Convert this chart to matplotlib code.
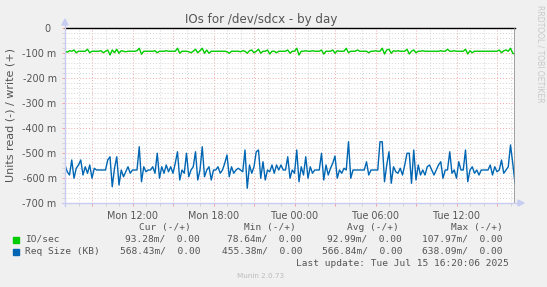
import numpy as np
import matplotlib
matplotlib.use('Agg')
import matplotlib.pyplot as plt
from matplotlib.ticker import MultipleLocator, FixedLocator

# read side values (milli-units), one sample every 10 minutes
io_sec = [-91, -97, -91, -93, -88, -99, -93, -93, -93, -93,
          -85, -99, -93, -93, -93, -93, -91, -99, -93, -88,
          -108, -88, -99, -85, -101, -91, -93, -95, -93, -93,
          -93, -93, -91, -81, -105, -93, -93, -93, -93, -93,
          -91, -99, -93, -93, -93, -91, -93, -93, -93, -93,
          -81, -101, -93, -93, -93, -95, -99, -93, -85, -99,
          -91, -81, -101, -88, -101, -93, -93, -93, -93, -93,
          -93, -93, -95, -101, -93, -93, -93, -93, -95, -91,
          -93, -101, -91, -88, -99, -93, -85, -101, -93, -93,
          -88, -104, -93, -93, -99, -93, -93, -93, -93, -88,
          -101, -93, -93, -81, -108, -93, -93, -91, -93, -93,
          -91, -93, -93, -93, -88, -104, -93, -93, -93, -88,
          -101, -91, -93, -93, -93, -81, -99, -93, -93, -93,
          -88, -93, -93, -93, -93, -99, -93, -93, -91, -93,
          -93, -81, -104, -88, -85, -101, -91, -93, -91, -93,
          -93, -93, -85, -104, -93, -88, -99, -93, -93, -91,
          -93, -93, -93, -93, -93, -93, -93, -91, -93, -93,
          -85, -93, -93, -91, -93, -93, -93, -93, -85, -104,
          -91, -99, -93, -93, -93, -93, -93, -93, -93, -93,
          -93, -93, -93, -88, -99, -91, -88, -93, -81, -101,
          -104]

req_size = [-548, -575, -588, -528, -601, -561, -548, -528, -588, -555,
            -581, -548, -601, -561, -568, -568, -568, -568, -568, -528,
            -515, -635, -561, -515, -628, -568, -595, -575, -555, -581,
            -568, -568, -568, -475, -615, -555, -575, -568, -568, -555,
            -581, -501, -601, -555, -581, -548, -575, -555, -581, -541,
            -495, -608, -568, -581, -501, -595, -568, -555, -495, -608,
            -568, -475, -595, -568, -555, -608, -568, -568, -555, -581,
            -568, -541, -508, -595, -555, -581, -568, -561, -568, -575,
            -488, -641, -548, -581, -555, -495, -488, -601, -535, -608,
            -568, -575, -548, -581, -548, -568, -548, -568, -568, -515,
            -601, -568, -581, -488, -615, -555, -588, -515, -601, -555,
            -581, -568, -568, -568, -501, -608, -548, -588, -561, -541,
            -512, -601, -568, -581, -561, -568, -455, -601, -568, -568,
            -568, -568, -568, -568, -535, -588, -568, -568, -568, -568,
            -455, -455, -615, -548, -495, -621, -555, -575, -581, -561,
            -588, -548, -501, -501, -621, -488, -608, -548, -588, -568,
            -588, -555, -548, -568, -588, -568, -548, -535, -601, -568,
            -568, -495, -581, -568, -601, -535, -568, -568, -488, -615,
            -568, -555, -581, -568, -588, -568, -568, -568, -568, -548,
            -588, -555, -575, -568, -528, -581, -568, -555, -468, -541,
            -621]

start_h = -17.0          # hours relative to Tue 00:00
step_h = 1 / 6
end_h = 16 + 20 / 60
hours = start_h + np.arange(len(io_sec)) * step_h

xtick_pos = [-12, -6, 0, 6, 12]
xtick_labels = ['Mon 12:00', 'Mon 18:00', 'Tue 00:00', 'Tue 06:00', 'Tue 12:00']
ytick_pos = [0, -100, -200, -300, -400, -500, -600, -700]
ytick_labels = ['0  ', '-100 m', '-200 m', '-300 m', '-400 m', '-500 m', '-600 m', '-700 m']

series_names = ['IO/sec', 'Req Size (KB)']
series_colors = ['#00CC00', '#0066B3']
cur_vals = ['93.28m/  0.00', '568.43m/  0.00']
min_vals = ['78.64m/  0.00', '455.38m/  0.00']
avg_vals = ['92.99m/  0.00', '566.84m/  0.00']
max_vals = ['107.97m/  0.00', '638.09m/  0.00']
headers = ['Cur (-/+)', 'Min (-/+)', 'Avg (-/+)', 'Max (-/+)']

W, H = 547, 287
txt = '#555555'
axis_col = '#C8CCF0'

fig = plt.figure(figsize=(W / 100, H / 100), dpi=100)
fig.patch.set_facecolor('#F0F0F0')
ax = fig.add_axes([65 / W, 1 - 203 / H, 450 / W, 175 / H])
ax.set_facecolor('white')

ax.plot(hours, io_sec, color=series_colors[0], lw=1.0, zorder=3)
ax.plot(hours, req_size, color=series_colors[1], lw=1.0, zorder=3)
ax.axhline(0, color='black', lw=1.0, zorder=4, clip_on=False)
ax.axvline(hours[-1], color='#909090', lw=1.2, zorder=4)

ax.set_xlim(start_h, end_h)
ax.set_ylim(-700, 0)

ax.xaxis.set_major_locator(MultipleLocator(3))
ax.xaxis.set_minor_locator(MultipleLocator(1))
ax.yaxis.set_major_locator(FixedLocator(ytick_pos))
ax.yaxis.set_minor_locator(MultipleLocator(20))
ax.set_yticklabels(ytick_labels)
major_x = ax.get_xticks()
ax.set_xticks(major_x)
ax.set_xticklabels([xtick_labels[xtick_pos.index(v)] if v in xtick_pos else '' for v in major_x])
ax.set_xlim(start_h, end_h)

ax.grid(which='minor', color='#D4D4D4', lw=0.7, ls=(0, (1, 2)))
ax.grid(which='major', color='#F0A8A8', lw=0.7, ls=(0, (1, 2)))
ax.tick_params(which='both', length=2.5, width=0.7, colors=txt, labelsize=6.9, pad=3.5)
ax.tick_params(which='major', color='#F0A0A0')
ax.tick_params(which='minor', color='#D4D4D4')
for s in ax.spines.values():
    s.set_visible(False)

# axes with arrows
fig.add_artist(plt.Line2D([65 / W, 65 / W], [1 - 206 / H, 1 - 24 / H], color=axis_col, lw=1.0))
fig.add_artist(plt.Line2D([62 / W, 519 / W], [1 - 203 / H, 1 - 203 / H], color=axis_col, lw=1.0))
fig.add_artist(plt.Polygon([[62 / W, 1 - 25 / H], [68 / W, 1 - 25 / H], [65 / W, 1 - 19 / H]],
                           closed=True, transform=fig.transFigure, color=axis_col))
fig.add_artist(plt.Polygon([[518 / W, 1 - 200 / H], [518 / W, 1 - 206 / H], [524 / W, 1 - 203 / H]],
                           closed=True, transform=fig.transFigure, color=axis_col))

fig.text(261.5 / W, 1 - 19 / H, 'IOs for /dev/sdcx - by day', ha='center', va='center',
         fontsize=8.6, color=txt)
fig.text(10.5 / W, 1 - 115 / H, 'Units read (-) / write (+)', rotation=90, ha='center',
         va='center', fontsize=8.0, color=txt)
fig.text(540 / W, 1 - 54 / H, 'RRDTOOL / TOBI OETIKER', rotation=270, ha='center',
         va='center', fontsize=5.5, color='#C8C8C8')

mono = 'DejaVu Sans Mono'
head_x = [191, 296, 399, 503]
val_x = [200, 302, 402, 503]
for hx, h in zip(head_x, headers):
    fig.text(hx / W, 1 - 227.5 / H, h, ha='right', va='center', family=mono,
             fontsize=6.8, color=txt)
rows_y = [239.5, 251.5]
for ry, name, col, c, mn, av, mx in zip(rows_y, series_names, series_colors,
                                        cur_vals, min_vals, avg_vals, max_vals):
    fig.add_artist(plt.Rectangle((13 / W, 1 - (ry + 3) / H), 6 / W, 6 / H,
                                 transform=fig.transFigure, color=col))
    fig.text(25 / W, 1 - ry / H, name, ha='left', va='center', family=mono,
             fontsize=6.8, color=txt)
    for vx, v in zip(val_x, [c, mn, av, mx]):
        fig.text(vx / W, 1 - ry / H, v, ha='right', va='center', family=mono,
                 fontsize=6.8, color=txt)

fig.text(509 / W, 1 - 263.5 / H, 'Last update: Tue Jul 15 16:20:06 2025', ha='right',
         va='center', family=mono, fontsize=6.8, color=txt)
fig.text(261 / W, 1 - 276 / H, 'Munin 2.0.73', ha='center', va='center',
         fontsize=5.2, color='#BBBBBB')

fig.savefig('out.png', dpi=100, facecolor=fig.get_facecolor())
